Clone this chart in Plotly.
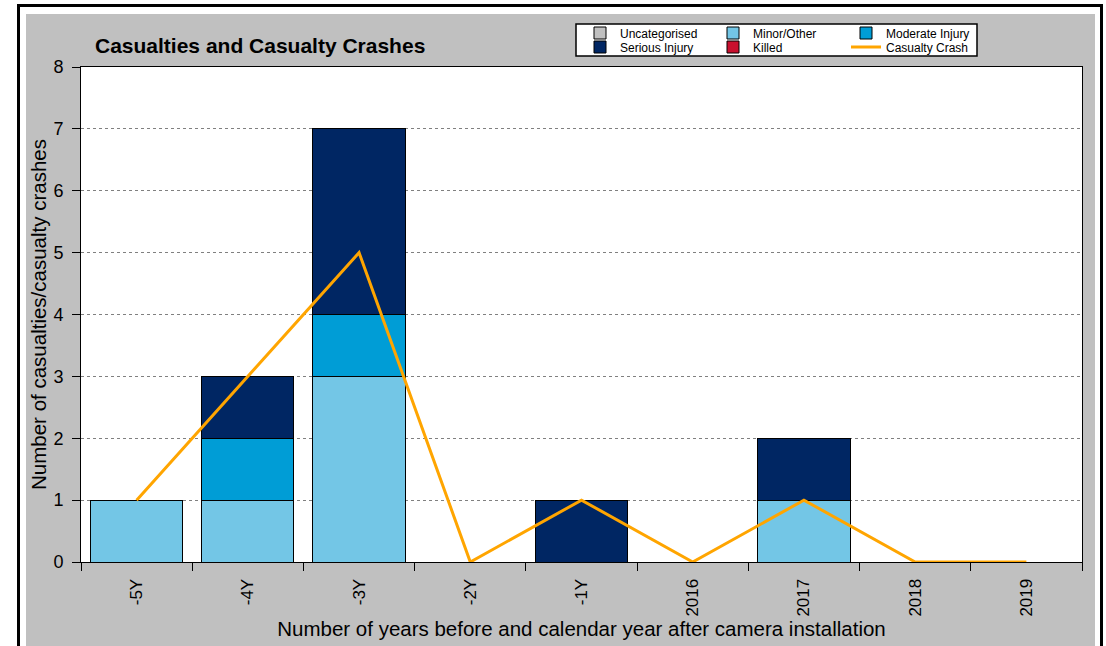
import plotly.graph_objects as go

categories = ["-5Y", "-4Y", "-3Y", "-2Y", "-1Y", "2016", "2017", "2018", "2019"]
uncategorised = [0, 0, 0, 0, 0, 0, 0, 0, 0]
minor_other = [1, 1, 3, 0, 0, 0, 1, 0, 0]
moderate_injury = [0, 1, 1, 0, 0, 0, 0, 0, 0]
serious_injury = [0, 1, 3, 0, 1, 0, 1, 0, 0]
killed = [0, 0, 0, 0, 0, 0, 0, 0, 0]
casualty_crash = [1, 3, 5, 0, 1, 0, 1, 0, 0]

FONT = "Liberation Sans, Arial, sans-serif"
W, H = 1106, 646
L, R, T, B = 81, 1082, 67, 562


def px_x(p):
    return (p - L) / (R - L)


def px_y(p):
    return (B - p) / (B - T)


fig = go.Figure()
bar_line = dict(color="black", width=1)
fig.add_trace(go.Bar(x=categories, y=uncategorised, name="Uncategorised",
                     marker=dict(color="#C0C0C0", line=bar_line), legend="legend"))
fig.add_trace(go.Bar(x=categories, y=minor_other, name="Minor/Other",
                     marker=dict(color="#73C6E6", line=bar_line), legend="legend"))
fig.add_trace(go.Bar(x=categories, y=moderate_injury, name="Moderate Injury",
                     marker=dict(color="#009DD6", line=bar_line), legend="legend"))
fig.add_trace(go.Bar(x=categories, y=serious_injury, name="Serious Injury",
                     marker=dict(color="#002663", line=bar_line), legend="legend2"))
fig.add_trace(go.Bar(x=categories, y=killed, name="Killed",
                     marker=dict(color="#C8102E", line=bar_line), legend="legend2"))
fig.add_trace(go.Scatter(x=categories, y=casualty_crash, name="Casualty Crash",
                         mode="lines", line=dict(color="#FFA500", width=3),
                         legend="legend2"))

shapes = [
    # grey chart area
    dict(type="rect", xref="paper", yref="paper", layer="below",
         x0=px_x(26), x1=px_x(1095), y0=px_y(646), y1=px_y(14),
         fillcolor="#C0C0C0", line=dict(width=0)),
    # white plot area
    dict(type="rect", xref="paper", yref="paper", layer="below",
         x0=0, x1=1, y0=0, y1=1, fillcolor="white", line=dict(width=0)),
    # black outer frame pieces
    dict(type="rect", xref="paper", yref="paper", layer="below",
         x0=px_x(17), x1=px_x(20), y0=px_y(646), y1=px_y(4),
         fillcolor="black", line=dict(width=0)),
    dict(type="rect", xref="paper", yref="paper", layer="below",
         x0=px_x(17), x1=px_x(1103), y0=px_y(7), y1=px_y(4),
         fillcolor="black", line=dict(width=0)),
    dict(type="rect", xref="paper", yref="paper", layer="below",
         x0=px_x(1100), x1=px_x(1103), y0=px_y(646), y1=px_y(4),
         fillcolor="black", line=dict(width=0)),
    # legend box
    dict(type="rect", xref="paper", yref="paper", layer="below",
         x0=px_x(576), x1=px_x(977), y0=px_y(56), y1=px_y(24),
         fillcolor="white", line=dict(color="black", width=1.5)),
]

legend_common = dict(
    orientation="h", xanchor="left", yanchor="middle",
    bgcolor="rgba(0,0,0,0)", borderwidth=0,
    font=dict(family=FONT, size=12, color="black"),
    entrywidth=88, entrywidthmode="pixels", itemwidth=30,
    tracegroupgap=0, traceorder="normal",
)

fig.update_layout(
    width=W, height=H, autosize=False,
    margin=dict(l=L, r=W - R, t=T, b=H - B, pad=0),
    paper_bgcolor="white", plot_bgcolor="white",
    barmode="stack", bargap=0.17,
    font=dict(family=FONT, color="black"),
    title=dict(text="<b>Casualties and Casualty Crashes</b>",
               x=px_x(95), xref="paper", xanchor="left",
               y=1 - 46 / H, yref="container", yanchor="middle",
               font=dict(family=FONT, size=21, color="black")),
    shapes=shapes,
    legend=dict(x=px_x(580), y=px_y(33), **legend_common),
    legend2=dict(x=px_x(580), y=px_y(47), **legend_common),
    xaxis=dict(
        type="category", tickson="boundaries", ticks="outside", ticklen=8,
        tickcolor="black", tickwidth=1, showline=True, linecolor="black",
        linewidth=1, mirror=True, tickangle=-90, showgrid=False,
        ticklabelstandoff=9,
        tickfont=dict(family=FONT, size=17, color="black"),
        title=dict(text="Number of years before and calendar year after camera installation",
                   font=dict(family=FONT, size=20.5, color="black"), standoff=2),
    ),
    yaxis=dict(
        range=[0, 8], dtick=1, ticks="outside", ticklen=8, tickcolor="black",
        showline=True, linecolor="black", linewidth=1, mirror=True,
        showgrid=True, gridcolor="#808080", griddash="dot", gridwidth=1,
        zeroline=False, ticklabelstandoff=5,
        tickfont=dict(family=FONT, size=18, color="black"),
        title=dict(text="Number of casualties/casualty crashes",
                   font=dict(family=FONT, size=20.5, color="black"), standoff=1),
    ),
)

fig.write_html("out.html", config={"displayModeBar": False},
               post_script="document.body.style.margin='0';")
